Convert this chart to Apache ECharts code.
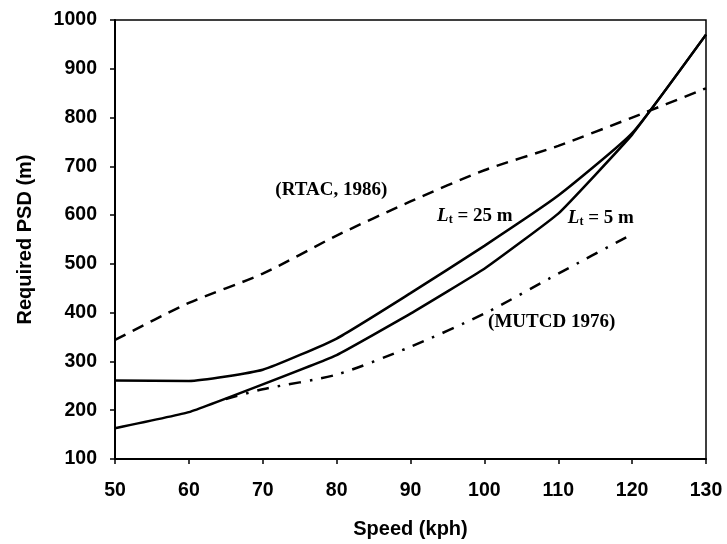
<!DOCTYPE html>
<html>
<head>
<meta charset="utf-8">
<script src="https://cdn.jsdelivr.net/npm/echarts@6/dist/echarts.min.js"></script>
<style>html,body{margin:0;padding:0;background:#fff}#c{width:727px;height:544px}</style>
</head>
<body>
<div id="c"></div>
<script>
// Data
const speedsFull = [50, 60, 70, 80, 90, 100, 110, 120, 130];
const lt25 = [261, 260, 283, 347, 440, 537, 640, 768, 970];
const lt5 = [163, 196, 253, 313, 398, 490, 603, 765, 970];
const rtac = [344, 420, 480, 558, 628, 692, 742, 800, 860];
const mutcdSpeeds = [65, 70, 80, 90, 100, 110, 120];
const mutcd = [223, 243, 273, 330, 398, 480, 561];
const xTicks = [50, 60, 70, 80, 90, 100, 110, 120, 130];
const yTicks = [100, 200, 300, 400, 500, 600, 700, 800, 900, 1000];

const pairs = (xs, ys) => xs.map((x, i) => [x, ys[i]]);

const chart = echarts.init(document.getElementById('c'));
const axisText = { color: '#000', fontFamily: 'Liberation Sans, Arial, sans-serif', fontWeight: 'bold', fontSize: 19.5 };
const lineBase = { color: '#000', width: 2.5 };

chart.setOption({
  animation: false,
  backgroundColor: '#fff',
  grid: { left: 115, right: 21, top: 20, bottom: 76, show: true, borderColor: '#000', borderWidth: 1.5 },
  xAxis: {
    type: 'value', min: 50, max: 130, interval: 10,
    name: 'Speed (kph)', nameLocation: 'middle', nameGap: 60,
    nameTextStyle: Object.assign({}, axisText, { fontSize: 20 }),
    axisLine: { lineStyle: { color: '#000', width: 2 } },
    axisTick: { show: true, length: 5, lineStyle: { color: '#000', width: 1.5 } },
    axisLabel: Object.assign({ margin: 22, formatter: v => xTicks.includes(v) ? String(v) : '' }, axisText),
    splitLine: { show: false }
  },
  yAxis: {
    type: 'value', min: 100, max: 1000, interval: 100,
    name: 'Required PSD (m)', nameLocation: 'middle', nameGap: 80,
    nameTextStyle: Object.assign({}, axisText, { fontSize: 20 }),
    axisLine: { show: true, lineStyle: { color: '#000', width: 2 } },
    axisTick: { show: true, length: 5, lineStyle: { color: '#000', width: 1.5 } },
    axisLabel: Object.assign({ margin: 18, formatter: v => yTicks.includes(v) ? String(v) : '' }, axisText),
    splitLine: { show: false }
  },
  series: [
    { name: 'RTAC 1986', type: 'line', data: pairs(speedsFull, rtac), symbol: 'none', smooth: 0.25,
      lineStyle: Object.assign({}, lineBase, { type: [12, 8] }) },
    { name: 'Lt = 25 m', type: 'line', data: pairs(speedsFull, lt25), symbol: 'none', smooth: 0.15,
      lineStyle: Object.assign({}, lineBase) },
    { name: 'Lt = 5 m', type: 'line', data: pairs(speedsFull, lt5), symbol: 'none', smooth: 0.1,
      lineStyle: Object.assign({}, lineBase) },
    { name: 'MUTCD 1976', type: 'line', data: pairs(mutcdSpeeds, mutcd), symbol: 'none', smooth: 0.25,
      lineStyle: Object.assign({}, lineBase, { type: [12, 9, 2.5, 9] }) }
  ]
});

// Annotations anchored in data space
const notes = [
  { at: [71.7, 652], text: '(RTAC, 1986)' },
  { at: [93.6, 598], text: '{i|L}{s|t} = 25 m' },
  { at: [111.3, 594], text: '{i|L}{s|t} = 5 m' },
  { at: [100.5, 381], text: '(MUTCD 1976)' }
];
const serif = 'Liberation Serif, Times New Roman, serif';
chart.setOption({
  graphic: notes.map(n => {
    const p = chart.convertToPixel({ gridIndex: 0 }, n.at);
    return {
      type: 'text', x: p[0], y: p[1],
      style: {
        text: n.text, fill: '#000', font: 'bold 19px ' + serif, textVerticalAlign: 'middle', textAlign: 'left',
        rich: {
          i: { fontFamily: serif, fontStyle: 'italic', fontWeight: 'bold', fontSize: 19, fill: '#000' },
          s: { fontFamily: serif, fontWeight: 'bold', fontSize: 12, fill: '#000', padding: [8, 0, 0, 0] }
        }
      }
    };
  })
});
</script>
</body>
</html>
